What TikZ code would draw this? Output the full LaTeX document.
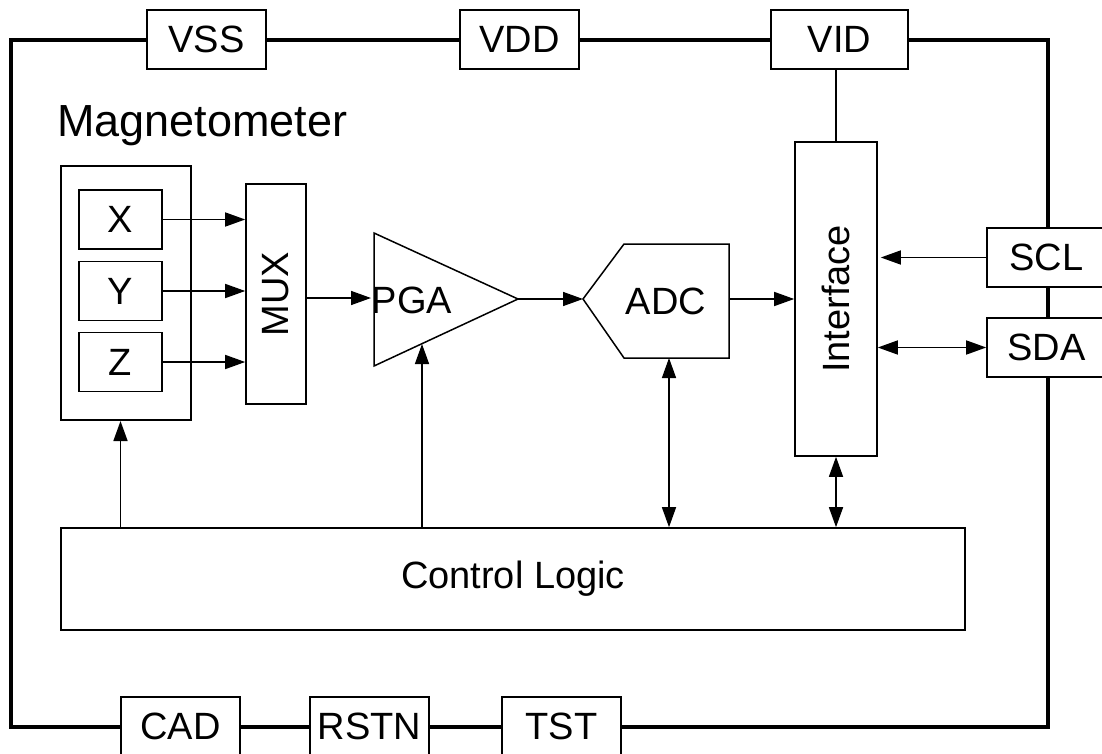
\documentclass[tikz,border=0pt]{standalone}
\usepackage{fontspec}
\usepackage{graphicx}
\setmainfont{Liberation Sans}
\usetikzlibrary{arrows.meta}
\begin{document}
\begin{tikzpicture}[x=1pt,y=-1pt,
  every node/.style={font=\fontsize{38}{42}\selectfont, inner sep=0pt},
  box/.style={draw, line width=1.6pt, fill=white},
  pin/.style={box, minimum width=119pt, minimum height=59pt},
  tip/.style={},
  arr/.style={line width=1.5pt, -{Triangle[length=20pt,width=14pt]}},
  darr/.style={line width=1.5pt, {Triangle[length=20pt,width=14pt]}-{Triangle[length=20pt,width=14pt]}},
  wire/.style={line width=1.5pt},
  border/.style={line width=4pt}]
\path[use as bounding box] (0,0) rectangle (1102,754);
% outer bus
\draw[border] (11,40) rectangle (1048,727);
% pins
\node[pin] (vss) at (206.5,39.5) {VSS};
\node[pin] (vdd) at (519.5,39.5) {VDD};
\node[pin, minimum width=137pt] (vid) at (839.5,39.5) {VID};
\node[pin] (scl) at (1046.5,257.5) {SCL};
\node[pin] (sda) at (1046.5,347.5) {SDA};
\node[pin] (cad) at (180.5,726.5) {CAD};
\node[pin] (rstn) at (369.5,726.5) {RSTN};
\node[pin] (tst) at (561.5,726.5) {TST};
% magnetometer
\node[anchor=base west, font=\fontsize{45}{48}\selectfont] (maglabel) at (57,137) {Magnetometer};
\node[box, line width=2pt, minimum width=130pt, minimum height=254pt] (mag) at (126,293) {};
\node[box, minimum width=83pt, minimum height=59pt] (X) at (120.5,219.5) {X};
\node[box, minimum width=83pt, minimum height=59pt] (Y) at (120.5,291) {Y};
\node[box, minimum width=83pt, minimum height=59pt] (Z) at (120.5,362) {Z};
% MUX
\node[box, minimum width=60pt, minimum height=220pt] (mux) at (276,294) {\rotatebox{90}{MUX}};
% PGA
\draw[wire] (374,233) coordinate (pgaT) -- (518,299) coordinate (pgaO) -- (374,366) coordinate (pgaB) -- cycle;
\coordinate (pgaIn) at (374,298);
\coordinate (pgaCtl) at (422,344);
\node (pga) at (412,300) {PGA};
% ADC
\draw[wire] (583,299) coordinate (adcIn) -- (624,244) -- (729,244) -- (729,358) -- (624,358) -- cycle;
\coordinate (adcOut) at (729,299);
\coordinate (adcBot) at (669,358);
\node (adc) at (666,301) {ADC};
% Interface
\node[box, minimum width=82pt, minimum height=314pt] (iface) at (836,299) {\rotatebox{90}{Interface}};
% Control logic
\node[box, minimum width=904pt, minimum height=102pt] (cl) at (513,579) {Control Logic};
% connectors
\draw[arr] (X.east) -- (X.east -| mux.west);
\draw[arr] (Y.east) -- (Y.east -| mux.west);
\draw[arr] (Z.east) -- (Z.east -| mux.west);
\draw[arr, shorten >=3pt] (mux.east |- pgaIn) -- (pgaIn);
\draw[arr] (pgaO) -- (adcIn);
\draw[arr] (adcOut) -- (iface.west |- adcOut);
\draw[arr] (cl.north -| X) -- (mag.south -| X);
\draw[arr] (cl.north -| pgaCtl) -- (pgaCtl);
\draw[darr] (cl.north -| adcBot) -- (adcBot);
\draw[darr] (cl.north -| iface.south) -- (iface.south);
\draw[wire] (vid.south -| iface.north) -- (iface.north);
\draw[arr, shorten >=3pt] (scl.west) -- (scl.west -| iface.east);
\draw[darr] (sda.west) -- (sda.west -| iface.east);
\end{tikzpicture}
\end{document}
